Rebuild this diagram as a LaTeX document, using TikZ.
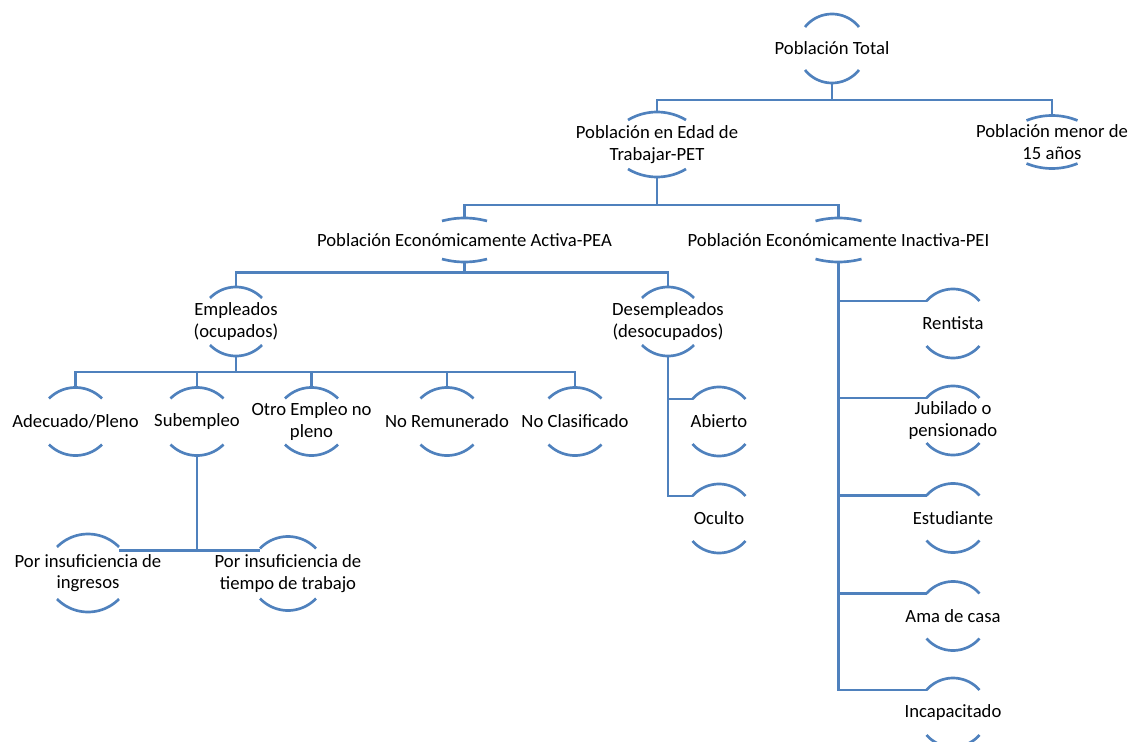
\documentclass[tikz,border=0pt]{standalone}
\usepackage{fontspec}
\setmainfont{Carlito}
\begin{document}
\begin{tikzpicture}[x=0.6pt,y=-0.6pt,
  lbl/.style={inner sep=0pt,align=center,font=\fontsize{11.2}{12.8}\selectfont,text=black},
  arcst/.style={draw=blueln,line width=1.6pt},
  conn/.style={draw=blueln,line width=1.6pt}]
\definecolor{blueln}{RGB}{79,129,189}
\useasboundingbox (0,0) rectangle (1133,742);
\clip (0,0) rectangle (1133,742);
\newcommand\arcnode[7]{%
 \node[lbl] (#1) at (#2,#3) {#7};
 \coordinate (#1-t) at (#2,#3-#6);
 \coordinate (#1-b) at (#2,#3+#6);
 \coordinate (#1-tl) at (#2-#4,#3-#6+#5);
 \coordinate (#1-tr) at (#2+#4,#3-#6+#5);
 \pgfmathsetmacro\arcR{(#4*#4+#5*#5)/(2*#5)}%
 \pgfmathsetmacro\arcA{asin(#4/\arcR)}%
 \draw[arcst] plot[domain=-\arcA:\arcA,samples=25] ({#2+\arcR*sin(\x)},{#3-#6+\arcR*(1-cos(\x))});
 \draw[arcst] plot[domain=-\arcA:\arcA,samples=25] ({#2+\arcR*sin(\x)},{#3+#6-\arcR*(1-cos(\x))});
}
% level 0
\arcnode{pt}{832}{48.5}{27}{13}{34.5}{Población Total}
% level 1
\arcnode{pet}{657}{144.5}{29}{8}{32.5}{Población en Edad de\\Trabajar-PET}
\arcnode{men}{1052}{142}{25.5}{5}{26.5}{Población menor de\\15 años}
% level 2
\arcnode{pea}{464.5}{240}{22.5}{3}{22}{Población Económicamente Activa-PEA}
\arcnode{pei}{838.5}{240}{23}{3}{22}{Población Económicamente Inactiva-PEI}
% level 3
\arcnode{emp}{236}{321.5}{26}{11}{34.5}{Empleados\\(ocupados)}
\arcnode{des}{668}{321.5}{26}{11}{34.5}{Desempleados\\(desocupados)}
% level 4
\arcnode{ade}{75.5}{421.5}{26.5}{11}{34}{Adecuado/Pleno}
\arcnode{sub}{197}{421.5}{26.5}{11}{34}{Subempleo}
\arcnode{otro}{311.5}{421.5}{26.5}{11}{34}{Otro Empleo no\\pleno}
\arcnode{nor}{447}{421.5}{26.5}{11}{34}{No Remunerado}
\arcnode{nocl}{575}{421.5}{26.5}{11}{34}{No Clasificado}
\arcnode{abi}{719}{421.5}{26.5}{12}{34.5}{Abierto}
\arcnode{ocu}{719}{518.5}{26.5}{12}{34.5}{Oculto}
% level 5
\arcnode{ins1}{88}{573}{31}{13}{39}{Por insuficiencia de\\ingresos}
\arcnode{ins2}{288}{573.5}{28}{12}{37}{Por insuficiencia de\\tiempo de trabajo}
% PEI children
\arcnode{ren}{953}{323.5}{26.5}{12}{34.5}{Rentista}
\arcnode{jub}{953}{420.5}{26.5}{12}{34.5}{Jubilado o\\pensionado}
\arcnode{est}{953}{518}{26.5}{12}{34.5}{Estudiante}
\arcnode{ama}{953}{616}{26.5}{12}{34.5}{Ama de casa}
\arcnode{inc}{953}{712.5}{26.5}{12}{34.5}{Incapacitado}
% buses
\coordinate (bus1) at (0,100);
\coordinate (bus2) at (0,205);
\coordinate (bus3) at (0,272.5);
\coordinate (bus4) at (0,372);
\coordinate (bus5) at (0,550.5);
% connectors
\draw[conn] (pt-b) -- (pt-b |- bus1);
\draw[conn] (pet-t) |- (men-t |- bus1) -- (men-t);
\draw[conn] (pet-b) -- (pet-b |- bus2);
\draw[conn] (pea-t) |- (pei-t |- bus2) -- (pei-t);
\draw[conn] (pea-b) -- (pea-b |- bus3);
\draw[conn] (emp-t) |- (des-t |- bus3) -- (des-t);
\draw[conn] (emp-b) -- (emp-b |- bus4);
\draw[conn] (ade-t) |- (nocl-t |- bus4) -- (nocl-t);
\draw[conn] (sub-t) -- (sub-t |- bus4);
\draw[conn] (otro-t) -- (otro-t |- bus4);
\draw[conn] (nor-t) -- (nor-t |- bus4);
\draw[conn] (des-b) |- (ocu-tl);
\draw[conn] (des-b |- abi-tl) -- (abi-tl);
\draw[conn] (pei-b) |- (inc-tl);
\draw[conn] (pei-b |- ren-tl) -- (ren-tl);
\draw[conn] (pei-b |- jub-tl) -- (jub-tl);
\draw[conn] (pei-b |- est-tl) -- (est-tl);
\draw[conn] (pei-b |- ama-tl) -- (ama-tl);
\draw[conn] (sub-b) -- (sub-b |- bus5);
\draw[conn] (ins1-tr |- bus5) -- (ins2-tl |- bus5);
\end{tikzpicture}
\end{document}
